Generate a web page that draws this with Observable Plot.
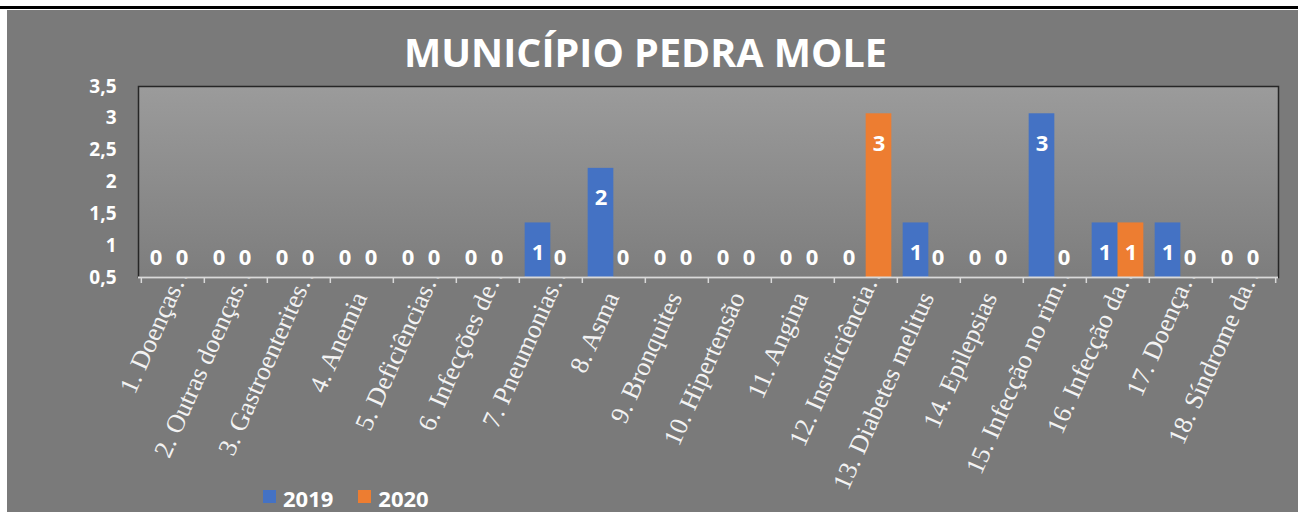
<!DOCTYPE html>
<html><head><meta charset="utf-8">
<script src="https://cdn.jsdelivr.net/npm/d3@7"></script>
<script src="https://cdn.jsdelivr.net/npm/@observablehq/plot@0.6"></script>
<style>
  body{margin:0;background:#fff;width:1298px;height:512px;overflow:hidden;position:relative;font-family:"Open Sans",sans-serif}
  #rule{position:absolute;left:0;top:6px;width:1298px;height:3px;background:#000}
  #panel{position:absolute;left:7px;top:10px;right:0;bottom:0;background:#7a7a7a}
  #title{position:absolute;left:0;width:1291px;top:33px;text-align:center;color:#fff;font:700 39.5px/39px "Open Sans",sans-serif;white-space:nowrap}
  #chart{position:absolute;left:0;top:80px}
  #legend{position:absolute;left:263px;top:488px;display:flex;align-items:center;font:700 22px/20px "Open Sans",sans-serif;color:#fff}
  #legend .sw{width:13px;height:13px;display:inline-block;margin-right:7px;margin-top:-4px}
  #legend .item{display:flex;align-items:center;margin-right:25px}
  #chart g[aria-label="y-axis tick label"] text{font:700 19px "Open Sans",sans-serif;fill:#fff}
  #chart g.xlab text{font:400 26px "Liberation Serif",serif;fill:#f2f2f2}
  #chart g.dlab text{font:700 22px "Open Sans",sans-serif;fill:#fff}
</style>
</head><body>
<div id="rule"></div>
<div id="panel"></div>
<div id="title"></div>
<div id="chart"></div>
<div id="legend"></div>
<script>
const chartTitle = "MUNICÍPIO PEDRA MOLE";
const categories = [
  "1. Doenças…","2. Outras doenças…","3. Gastroenterites…","4. Anemia","5. Deficiências…",
  "6. Infecções de…","7. Pneumonias…","8. Asma","9. Bronquites","10. Hipertensão","11. Angina",
  "12. Insuficiência…","13. Diabetes melitus","14. Epilepsias","15. Infecção no rim…",
  "16. Infecção da…","17. Doença…","18. Síndrome da…"
];
const years = ["2019","2020"];
const values2019 = [0,0,0,0,0,0,1,2,0,0,0,0,1,0,3,1,1,0];
const values2020 = [0,0,0,0,0,0,0,0,0,0,0,3,0,0,0,1,0,0];
const colors = ["#4472c4","#ed7d31"];
const yTickValues = [0, 0.5833, 1.1667, 1.75, 2.3333, 2.9167, 3.5];
const yTickLabels = ["0,5","1","1,5","2","2,5","3","3,5"];

document.getElementById("title").textContent = chartTitle;

const data = categories.flatMap((c, i) => [
  {cat: c, year: years[0], value: values2019[i]},
  {cat: c, year: years[1], value: values2020[i]}
]);
const d19 = data.filter(d => d.year === years[0]);
const d20 = data.filter(d => d.year === years[1]);

const W = 1298, H = 400, mL = 138, mR = 20;
const band = (W - mL - mR) / categories.length;
const barW = 26, gap = (band - 2 * barW) / 2;
const rot = -66, fs = 26;
const ell = categories.filter(c => c.endsWith("…"));
const plain = categories.filter(c => !c.endsWith("…"));
const ex = 1.3 * fs * Math.cos(rot * Math.PI / 180), ey = 1.3 * fs * Math.sin(rot * Math.PI / 180);

const xLabelOpts = {tickSize: 0, tickRotate: rot, tickPadding: 0, text: d => d, className: "xlab", label: null};

const plot = Plot.plot({
  width: W, height: H,
  marginLeft: mL, marginRight: mR, marginTop: 6, marginBottom: H - 6 - 191,
  style: {background: "transparent", overflow: "visible"},
  x: {type: "band", domain: categories, padding: 0, label: null},
  y: {domain: [0, 3.5], label: null},
  color: {domain: years, range: colors},
  marks: [
    Plot.axisX(plain, {...xLabelOpts, dx: -2, dy: 16}),
    Plot.axisX(ell, {...xLabelOpts, dx: -2 + ex, dy: 16 + ey}),
    Plot.frame({fill: "url(#plotbg)", stroke: "#262626", strokeWidth: 1.5}),
    Plot.axisY({ticks: yTickValues, tickFormat: d => yTickLabels[yTickValues.indexOf(d)], tickSize: 0, tickPadding: 22, label: null}),
    Plot.barY(d19, {x: "cat", y: "value", fill: "year", insetLeft: gap, insetRight: gap + barW}),
    Plot.barY(d20, {x: "cat", y: "value", fill: "year", insetLeft: gap + barW, insetRight: gap}),
    Plot.ruleY([0], {stroke: "#d9d9d9", strokeWidth: 2}),
    Plot.axisX(categories, {tickSize: 6, text: null, dx: -band / 2, stroke: "#d9d9d9", strokeWidth: 1.5, label: null}),
    Plot.axisX([categories[categories.length - 1]], {tickSize: 6, text: null, dx: band / 2, stroke: "#d9d9d9", strokeWidth: 1.5, label: null}),
    Plot.text(d19.filter(d => d.value > 0), {x: "cat", y: "value", text: d => String(d.value), dx: -(barW / 2), dy: 30, className: "dlab"}),
    Plot.text(d20.filter(d => d.value > 0), {x: "cat", y: "value", text: d => String(d.value), dx: barW / 2, dy: 30, className: "dlab"}),
    Plot.text(d19.filter(d => d.value === 0), {x: "cat", y: "value", text: d => String(d.value), dx: -(barW / 2) - 4, dy: -20, className: "dlab"}),
    Plot.text(d20.filter(d => d.value === 0), {x: "cat", y: "value", text: d => String(d.value), dx: barW / 2 - 4, dy: -20, className: "dlab"})
  ]
});

const ns = "http://www.w3.org/2000/svg";
const defs = document.createElementNS(ns, "defs");
const grad = document.createElementNS(ns, "linearGradient");
grad.setAttribute("id", "plotbg");
grad.setAttribute("x1", "0"); grad.setAttribute("y1", "0");
grad.setAttribute("x2", "0"); grad.setAttribute("y2", "1");
[["0", "#9b9b9b"], ["1", "#7d7d7d"]].forEach(([o, c]) => {
  const s = document.createElementNS(ns, "stop");
  s.setAttribute("offset", o); s.setAttribute("stop-color", c);
  grad.appendChild(s);
});
defs.appendChild(grad);
plot.insertBefore(defs, plot.firstChild);
document.getElementById("chart").appendChild(plot);

const legend = document.getElementById("legend");
years.forEach((y, i) => {
  const it = document.createElement("span");
  it.className = "item";
  const sw = document.createElement("span");
  sw.className = "sw"; sw.style.background = colors[i];
  it.appendChild(sw);
  it.appendChild(document.createTextNode(y));
  legend.appendChild(it);
});
</script>
</body></html>
